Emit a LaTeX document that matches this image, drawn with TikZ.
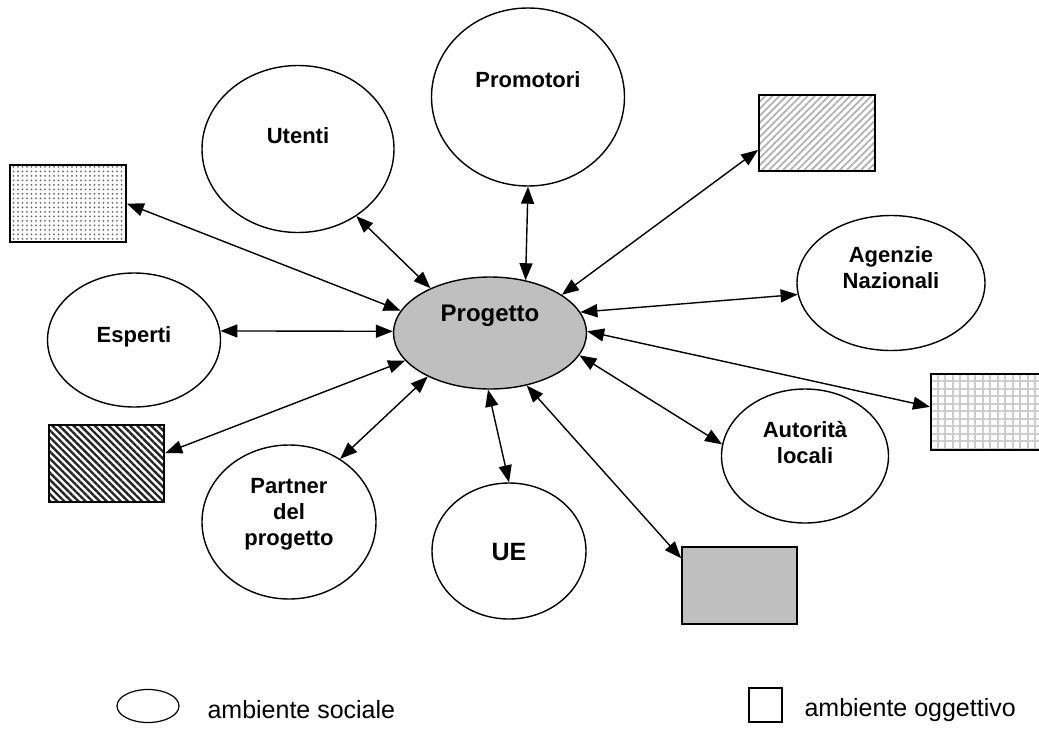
\documentclass[tikz,border=0pt]{standalone}
\usepackage{fontspec}
\setmainfont{Liberation Sans}
\usetikzlibrary{arrows.meta,shapes.geometric,patterns.meta}

\begin{document}
\begin{tikzpicture}[x=1pt,y=-1pt,
      actor/.style={ellipse, draw, line width=1.4pt, inner sep=0pt},
      actortext/.style={font=\bfseries\fontsize{22}{26}\selectfont, align=center},
      env/.style={rectangle, draw, line width=1.6pt, inner sep=0pt},
      link/.style={{Triangle[length=17pt,width=13pt]}-{Triangle[length=17pt,width=13pt]}, line width=1.4pt},
      legend/.style={font=\fontsize{25}{30}\selectfont, anchor=west},
  ]
    \useasboundingbox (0,0) rectangle (1039,734);

    % ambiente sociale
    \node[actor, fill=black!25, minimum width=193pt, minimum height=112pt,
      label={[actortext, font=\bfseries\fontsize{24}{28}\selectfont, yshift=17pt]center:Progetto}] (prog) at (490,333) {};
    \node[actor, minimum width=193pt, minimum height=178pt,
      label={[actortext, yshift=17pt]center:Promotori}] (prom) at (528,97) {};
    \node[actor, minimum width=192pt, minimum height=167pt,
      label={[actortext, yshift=13pt]center:Utenti}] (uten) at (298,149) {};
    \node[actor, minimum width=173pt, minimum height=134pt,
      label={[actortext, yshift=3pt]center:Esperti}] (espe) at (134,340) {};
    \node[actor, minimum width=174pt, minimum height=154pt,
      label={[actortext, yshift=8pt]center:{Partner\\del\\progetto}}] (part) at (289,522) {};
    \node[actor, minimum width=154pt, minimum height=136pt,
      label={[actortext, font=\bfseries\fontsize{25}{30}\selectfont, yshift=-1pt]center:UE}] (ue) at (509,551) {};
    \node[actor, minimum width=188pt, minimum height=135pt,
      label={[actortext, yshift=15pt]center:{Agenzie\\Nazionali}}] (agen) at (891,283) {};
    \node[actor, minimum width=167pt, minimum height=134pt,
      label={[actortext, yshift=13pt]center:{Autorità\\locali}}] (auto) at (805,456) {};

    % ambiente oggettivo
    \node[env, minimum width=116pt, minimum height=77pt,
      pattern={Dots[distance=4.5pt,radius=1pt]}, pattern color=black!60] (dotbox) at (68,203.5) {};
    \node[env, minimum width=116pt, minimum height=76pt,
      pattern={Lines[angle=45,distance=5pt,line width=1.8pt]}, pattern color=black!30] (hatchbox) at (817,133) {};
    \node[env, minimum width=116pt, minimum height=76pt,
      pattern={Hatch[distance=7.5pt,line width=2pt]}, pattern color=black!20] (gridbox) at (989,412) {};
    \node[env, minimum width=115pt, minimum height=77pt,
      pattern={Lines[angle=-45,distance=5pt,line width=2.4pt]}, pattern color=black!85] (darkbox) at (106.5,463.5) {};
    \node[env, minimum width=115pt, minimum height=77pt, fill=black!25] (graybox) at (739.5,585.5) {};

    % relazioni
    \draw[link] (dotbox.east) -- (prog.166);
    \draw[link] (uten.-49) -- (prog.143);
    \draw[link] (prom.south) -- (prog.56);
    \draw[link] (hatchbox.196) -- (prog.28);
    \draw[link] (agen.187) -- (prog.13);
    \draw[link] (gridbox.175) -- (prog.1);
    \draw[link] (auto.172) -- (prog.-14);
    \draw[link] (graybox.155) -- (prog.-55);
    \draw[link] (ue.north) -- (prog.268);
    \draw[link] (part.51) -- (prog.215);
    \draw[link] (darkbox.10) -- (prog.198);
    \draw[link] (espe.6) -- (prog.179);

    % legenda
    \node[actor, line width=1.2pt, minimum width=62pt, minimum height=33pt] (keysoc) at (148,706) {};
    \node[legend] (keysoctext) at (204,710) {ambiente sociale};
    \node[env, line width=1.2pt, minimum width=33pt, minimum height=34pt] (keyogg) at (765.5,705) {};
    \node[legend] (keyoggtext) at (801,710) {ambiente oggettivo};
\end{tikzpicture}
\end{document}
